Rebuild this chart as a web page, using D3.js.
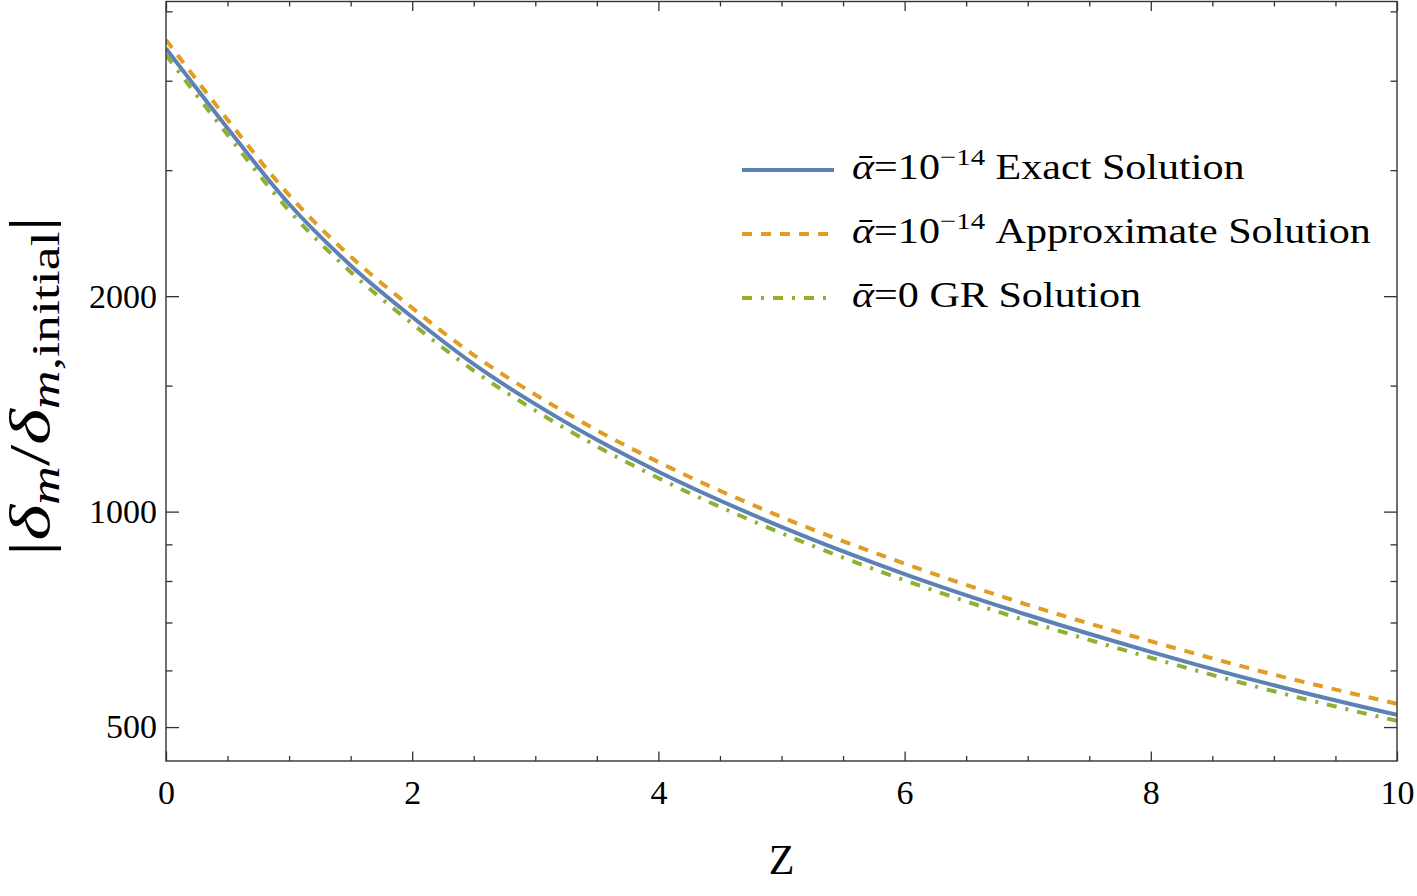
<!DOCTYPE html>
<html>
<head>
<meta charset="utf-8">
<script src="https://cdn.jsdelivr.net/npm/d3@7"></script>
<style>
  body { margin: 0; background: #fff; }
  text { font-family: "Liberation Serif", "DejaVu Serif", serif; fill: #000; }
</style>
</head>
<body>
<div id="chart"></div>
<script>
// values
var redshift = [0, 0.5, 1, 1.5, 2, 2.5, 3, 3.5, 4, 5, 6, 7, 8, 9, 10],
    exactSol = [4437, 3433, 2690, 2208, 1870, 1607, 1413, 1260, 1137, 952, 818, 717, 637, 572, 520],
    approxSol = [4561, 3529, 2768, 2272, 1926, 1655, 1457, 1299, 1173, 983, 846, 741, 659, 592, 539],
    grSol = [4344, 3361, 2634, 2162, 1831, 1574, 1384, 1234, 1114, 933, 802, 703, 625, 561, 510];

var xMajor = [0, 2, 4, 6, 8, 10],
    xMinor = [0.5, 1, 1.5, 2.5, 3, 3.5, 4.5, 5, 5.5, 6.5, 7, 7.5, 8.5, 9, 9.5],
    yMajor = [500, 1000, 2000],
    yMinor = [600, 700, 800, 900, 1500, 3000, 4000, 5000];

var series = [
    { name: "Exact Solution", sup: "−14", val: "10", values: exactSol, color: "#5e81b5", dash: null },
    { name: "Approximate Solution", sup: "−14", val: "10", values: approxSol, color: "#e19c24", dash: "10,9" },
    { name: "GR Solution", sup: null, val: "0", values: grSol, color: "#8fb032", dash: "10,9,3,9" }
];

var W = 1417, H = 896,
    pLeft = 166, pRight = 1397, pTop = 1.5, pBottom = 761;

var svg = d3.select("#chart").append("svg")
    .attr("width", W)
    .attr("height", H);

var x = d3.scaleLinear().domain([0, 10]).range([pLeft, pRight]);
var y = d3.scaleLog().domain([448.3, 5161]).range([pBottom, pTop]);

svg.append("defs").append("clipPath").attr("id", "plotclip")
    .append("rect")
    .attr("x", pLeft).attr("y", pTop)
    .attr("width", pRight - pLeft).attr("height", pBottom - pTop);

// curves
var line = d3.line()
    .x(function(d) { return x(d[0]); })
    .y(function(d) { return y(d[1]); })
    .curve(d3.curveMonotoneX);

var curves = svg.append("g").attr("clip-path", "url(#plotclip)");
series.slice().reverse().forEach(function(s) {
    curves.append("path")
        .datum(redshift.map(function(z, i) { return [z, s.values[i]]; }))
        .attr("d", line)
        .attr("fill", "none")
        .attr("stroke", s.color)
        .attr("stroke-width", 4)
        .attr("stroke-dasharray", s.dash);
});

// frame with inward ticks
function styleAxis(g) {
    g.select(".domain").remove();
    g.selectAll(".tick line").attr("stroke", "#333").attr("stroke-width", 1.3);
    g.selectAll(".tick text").style("font-size", "34px").attr("fill", "#000");
}

svg.append("g").attr("transform", "translate(0," + pBottom + ")")
    .call(d3.axisBottom(x).tickValues(xMinor).tickSize(-5).tickFormat(""))
    .call(styleAxis);
svg.append("g").attr("transform", "translate(0," + pBottom + ")")
    .call(d3.axisBottom(x).tickValues(xMajor).tickSizeInner(-9.5).tickSizeOuter(0).tickPadding(19))
    .call(styleAxis);
svg.append("g").attr("transform", "translate(0," + pTop + ")")
    .call(d3.axisTop(x).tickValues(xMinor).tickSize(-5).tickFormat(""))
    .call(styleAxis);
svg.append("g").attr("transform", "translate(0," + pTop + ")")
    .call(d3.axisTop(x).tickValues(xMajor).tickSize(-9.5).tickFormat(""))
    .call(styleAxis);

svg.append("g").attr("transform", "translate(" + pLeft + ",0)")
    .call(d3.axisLeft(y).tickValues(yMinor).tickSize(-6.5).tickFormat(""))
    .call(styleAxis);
svg.append("g").attr("transform", "translate(" + pLeft + ",0)")
    .call(d3.axisLeft(y).tickValues(yMajor).tickSizeInner(-13).tickSizeOuter(0).tickPadding(9).tickFormat(d3.format("d")))
    .call(styleAxis);
svg.append("g").attr("transform", "translate(" + pRight + ",0)")
    .call(d3.axisRight(y).tickValues(yMinor).tickSize(-6.5).tickFormat(""))
    .call(styleAxis);
svg.append("g").attr("transform", "translate(" + pRight + ",0)")
    .call(d3.axisRight(y).tickValues(yMajor).tickSize(-13).tickFormat(""))
    .call(styleAxis);

svg.append("rect")
    .attr("x", pLeft).attr("y", pTop)
    .attr("width", pRight - pLeft).attr("height", pBottom - pTop)
    .attr("fill", "none")
    .attr("stroke", "#333")
    .attr("stroke-width", 1.4);

// axis labels
svg.append("text")
    .attr("x", (pLeft + pRight) / 2).attr("y", 874)
    .attr("text-anchor", "middle")
    .style("font-size", "42px")
    .text("Z");

// y label, stretched to the width of the original (wider) math font
var ylabG = svg.append("g");
var ylab = ylabG.append("text")
    .attr("text-anchor", "middle")
    .style("font-size", "57px");
ylab.append("tspan").text("|");
ylab.append("tspan").style("font-style", "italic").text("δ");
ylab.append("tspan").style("font-style", "italic").style("font-size", "40px").attr("dy", 10).text("m");
ylab.append("tspan").attr("dy", -10).text("/");
ylab.append("tspan").style("font-style", "italic").text("δ");
ylab.append("tspan").style("font-style", "italic").style("font-size", "40px").attr("dy", 10).text("m");
ylab.append("tspan").style("font-size", "40px").text(",initial");
ylab.append("tspan").attr("dy", -10).text("|");
var yw = ylab.node().getBBox().width;
ylabG.attr("transform", "translate(49,386) rotate(-90) scale(" + (340 / yw) + ",1)");

// legend
var legend = svg.append("g");
var legendTexts = [];
series.forEach(function(s, i) {
    var ly = 170 + i * 64;
    legend.append("line")
        .attr("x1", 742).attr("x2", 834)
        .attr("y1", ly).attr("y2", ly)
        .attr("stroke", s.color)
        .attr("stroke-width", 4)
        .attr("stroke-dasharray", s.dash);
    var g = legend.append("g");
    var t = g.append("text")
        .attr("x", 0).attr("y", 0)
        .style("font-size", "35px");
    t.append("tspan").style("font-style", "italic").text("ᾱ");
    t.append("tspan").text("=" + s.val);
    if (s.sup) {
        t.append("tspan").style("font-size", "24px").attr("dy", -14).text(s.sup);
        t.append("tspan").attr("dy", 14).text(" " + s.name);
    } else {
        t.append("tspan").text(" " + s.name);
    }
    legendTexts.push({ g: g, y: ly + 9, w: t.node().getBBox().width });
});
// widest entry spans 852..1371 in the original
var ls = 519 / legendTexts[1].w;
legendTexts.forEach(function(d) {
    d.g.attr("transform", "translate(852," + d.y + ") scale(" + ls + ",1)");
});
</script>
</body>
</html>
